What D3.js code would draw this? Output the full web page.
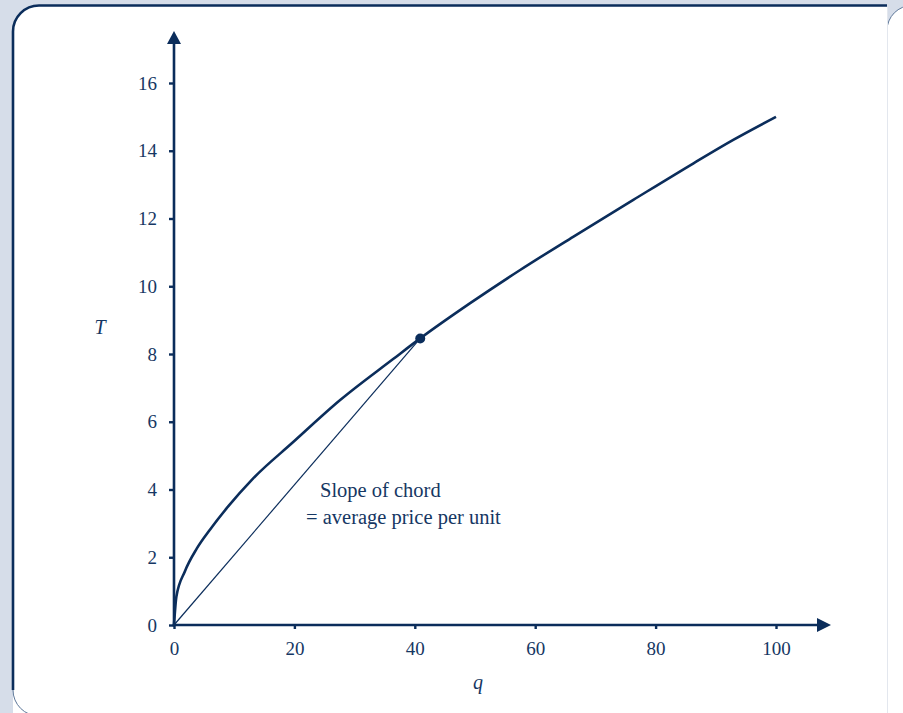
<!DOCTYPE html>
<html>
<head>
<meta charset="utf-8">
<script src="https://cdn.jsdelivr.net/npm/d3@7"></script>
<style>
  html, body { margin: 0; padding: 0; background: #d6dde9; }
  svg { display: block; }
  text { font-family: "Liberation Serif", "DejaVu Serif", serif; fill: #163763; }
</style>
</head>
<body>
<svg id="chart" width="903" height="713"></svg>
<script>
// ---- data ----
const qValues = [0, 0.4, 1.8, 3.8, 6, 9, 13, 19.8, 27.6, 36.4, 40.9, 49.2, 57.5, 66.3, 76.3, 86.3, 92.9, 100];
const tValues = [0, 0.84, 1.58, 2.26, 2.82, 3.50, 4.30, 5.40, 6.64, 7.85, 8.46, 9.50, 10.48, 11.46, 12.55, 13.63, 14.32, 15.0];
const markedPoint = [40.9, 8.46];
const xTicks = [0, 20, 40, 60, 80, 100];
const yTicks = [0, 2, 4, 6, 8, 10, 12, 14, 16];
const xLabel = "q";
const yLabel = "T";
const annotation = ["Slope of chord", "= average price per unit"];

const navy = "#0b2d5b";
const svg = d3.select("#chart");

// ---- panel ----
svg.append("rect").attr("x", 0).attr("y", 0).attr("width", 903).attr("height", 713).attr("fill", "#d6dde9");
svg.append("rect").attr("x", 887).attr("y", 5.5).attr("width", 120).attr("height", 740).attr("rx", 25)
  .attr("fill", "#ffffff").attr("stroke", "#5d7799").attr("stroke-width", 1);
svg.append("path")
  .attr("d", "M887,5.5 L887,760 L13,760 L13,31.5 A26,26 0 0 1 39,5.5 Z")
  .attr("fill", "#ffffff");
svg.append("path")
  .attr("d", "M13,690 A26,26 0 0 0 39,716")
  .attr("fill", "none").attr("stroke", "#5d7799").attr("stroke-width", 1);
svg.append("rect").attr("x", 13).attr("y", 716).attr("width", 874).attr("height", 40).attr("fill", "#d6dde9");
svg.append("path")
  .attr("d", "M13,690 L13,31.5 A26,26 0 0 1 39,5.5 L887,5.5")
  .attr("fill", "none").attr("stroke", navy).attr("stroke-width", 2.6);
svg.append("line").attr("x1", 887.5).attr("x2", 887.5).attr("y1", 7).attr("y2", 713)
  .attr("stroke", "#e3e7ee").attr("stroke-width", 1);

// ---- scales ----
const x = d3.scaleLinear().domain([0, 100]).range([174, 776]);
const y = d3.scaleLinear().domain([0, 16]).range([625, 83]);

// ---- axes ----
const xAxisG = svg.append("g").attr("transform", `translate(0,${y(0)})`)
  .call(d3.axisBottom(x).tickValues(xTicks).tickSize(4).tickPadding(13).tickFormat(d3.format("d")));
const yAxisG = svg.append("g").attr("transform", `translate(${x(0)},0)`)
  .call(d3.axisLeft(y).tickValues(yTicks).tickSize(5).tickPadding(12).tickFormat(d3.format("d")));
[xAxisG, yAxisG].forEach(g => {
  g.attr("font-size", 19).attr("font-family", "Liberation Serif, serif");
  g.select(".domain").remove();
  g.selectAll(".tick line").attr("stroke", navy).attr("stroke-width", 2.4);
  g.selectAll(".tick text").style("fill", "#163763");
});

// axis lines with arrows
svg.append("line").attr("x1", x(0) - 1.2).attr("x2", 820).attr("y1", y(0)).attr("y2", y(0))
  .attr("stroke", navy).attr("stroke-width", 2.6);
svg.append("line").attr("x1", x(0)).attr("x2", x(0)).attr("y1", y(0) + 1.2).attr("y2", 42)
  .attr("stroke", navy).attr("stroke-width", 2.6);
svg.append("path").attr("d", `M831,${y(0)} L817,${y(0) - 7} L817,${y(0) + 7} Z`).attr("fill", navy);
svg.append("path").attr("d", `M${x(0)},31 L${x(0) - 7},44 L${x(0) + 7},44 Z`).attr("fill", navy);

// axis labels
svg.append("text").attr("x", 100).attr("y", 334).attr("text-anchor", "middle")
  .attr("font-size", 20).attr("font-style", "italic").text(yLabel);
svg.append("text").attr("x", 478).attr("y", 689).attr("text-anchor", "middle")
  .attr("font-size", 20).attr("font-style", "italic").text(xLabel);

// ---- chord ----
svg.append("line")
  .attr("x1", x(0)).attr("y1", y(0))
  .attr("x2", x(markedPoint[0])).attr("y2", y(markedPoint[1]))
  .attr("stroke", navy).attr("stroke-width", 1.2);

// ---- curve ----
const data = qValues.map((q, i) => [q, tValues[i]]);
const line = d3.line().x(d => x(d[0])).y(d => y(d[1])).curve(d3.curveMonotoneX);
svg.append("path").datum(data).attr("d", line)
  .attr("fill", "none").attr("stroke", navy).attr("stroke-width", 2.6)
  .attr("stroke-linejoin", "round").attr("stroke-linecap", "butt");

// ---- point ----
svg.append("circle").attr("cx", x(markedPoint[0])).attr("cy", y(markedPoint[1]))
  .attr("r", 5).attr("fill", navy);

// ---- annotation ----
svg.append("text").attr("x", 320).attr("y", 497).attr("font-size", 20.5).text(annotation[0]);
svg.append("text").attr("x", 306).attr("y", 524).attr("font-size", 20.5).text(annotation[1]);
</script>
</body>
</html>
